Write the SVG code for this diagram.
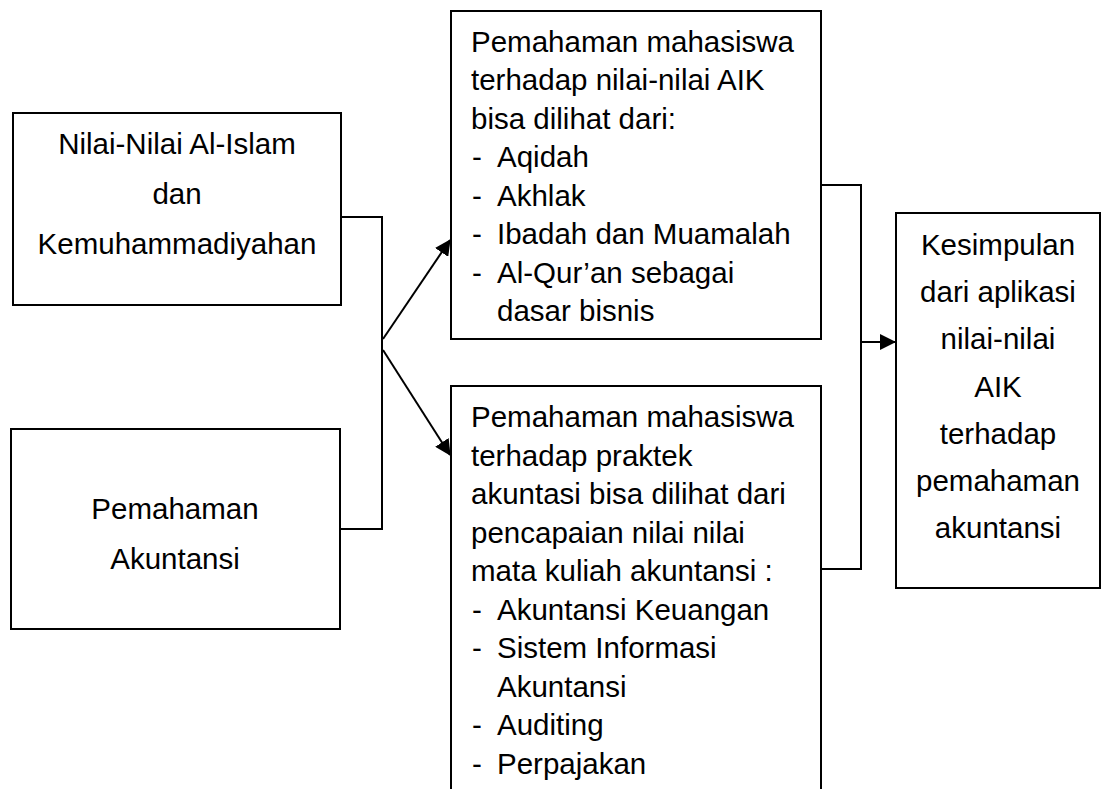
<svg xmlns="http://www.w3.org/2000/svg" width="1103" height="789" viewBox="0 0 1103 789">
<style>
.box{fill:#fff;stroke:#000;stroke-width:2}
.ln{fill:none;stroke:#000;stroke-width:2}
text{font-family:"Liberation Sans",Arial,sans-serif;font-size:29.5px;fill:#000}
.c{text-anchor:middle}
</style>
<defs>
<marker id="ah" markerUnits="userSpaceOnUse" markerWidth="16" markerHeight="16" viewBox="0 0 16 16" refX="15" refY="8" orient="auto">
<path d="M0,0 L16,8 L0,16 Z" fill="#000"/>
</marker>
</defs>
<rect width="1103" height="789" fill="#fff"/>
<g id="connectors">
<polyline class="ln" points="342,217 382,217 382,529 340,529"/>
<line class="ln" x1="383" y1="339" x2="450" y2="240" marker-end="url(#ah)"/>
<line class="ln" x1="383" y1="350" x2="450" y2="455" marker-end="url(#ah)"/>
<polyline class="ln" points="822,185 861,185 861,569 822,569"/>
<line class="ln" x1="861" y1="342" x2="895" y2="342" marker-end="url(#ah)"/>
</g>
<g id="node-nilai">
<rect class="box" x="13" y="113" width="328" height="192"/>
<text class="c" x="177" y="154">Nilai-Nilai Al-Islam</text>
<text class="c" x="177" y="204">dan</text>
<text class="c" x="177" y="254">Kemuhammadiyahan</text>
</g>
<g id="node-pemahaman-akuntansi">
<rect class="box" x="11" y="429" width="329" height="200"/>
<text class="c" x="175" y="519">Pemahaman</text>
<text class="c" x="175" y="569">Akuntansi</text>
</g>
<g id="node-aik">
<rect class="box" x="451" y="11" width="370" height="328"/>
<text x="471" y="51.5">Pemahaman mahasiswa</text>
<text x="471" y="90">terhadap nilai-nilai AIK</text>
<text x="471" y="128.5">bisa dilihat dari:</text>
<text x="472" y="167">-</text><text x="497" y="167">Aqidah</text>
<text x="472" y="205.5">-</text><text x="497" y="205.5">Akhlak</text>
<text x="472" y="244">-</text><text x="497" y="244">Ibadah dan Muamalah</text>
<text x="472" y="282.5">-</text><text x="497" y="282.5">Al-Qur’an sebagai</text>
<text x="497" y="321">dasar bisnis</text>
</g>
<g id="node-praktek">
<rect class="box" x="451" y="386" width="370" height="420"/>
<text x="471" y="427">Pemahaman mahasiswa</text>
<text x="471" y="465.5">terhadap praktek</text>
<text x="471" y="504">akuntasi bisa dilihat dari</text>
<text x="471" y="542.5">pencapaian nilai nilai</text>
<text x="471" y="581">mata kuliah akuntansi :</text>
<text x="472" y="619.5">-</text><text x="497" y="619.5">Akuntansi Keuangan</text>
<text x="472" y="658">-</text><text x="497" y="658">Sistem Informasi</text>
<text x="497" y="696.5">Akuntansi</text>
<text x="472" y="735">-</text><text x="497" y="735">Auditing</text>
<text x="472" y="773.5">-</text><text x="497" y="773.5">Perpajakan</text>
</g>
<g id="node-kesimpulan">
<rect class="box" x="896" y="213" width="204" height="375"/>
<text class="c" x="998" y="255">Kesimpulan</text>
<text class="c" x="998" y="302">dari aplikasi</text>
<text class="c" x="998" y="349">nilai-nilai</text>
<text class="c" x="998" y="397">AIK</text>
<text class="c" x="998" y="444">terhadap</text>
<text class="c" x="998" y="491">pemahaman</text>
<text class="c" x="998" y="538">akuntansi</text>
</g>
</svg>
